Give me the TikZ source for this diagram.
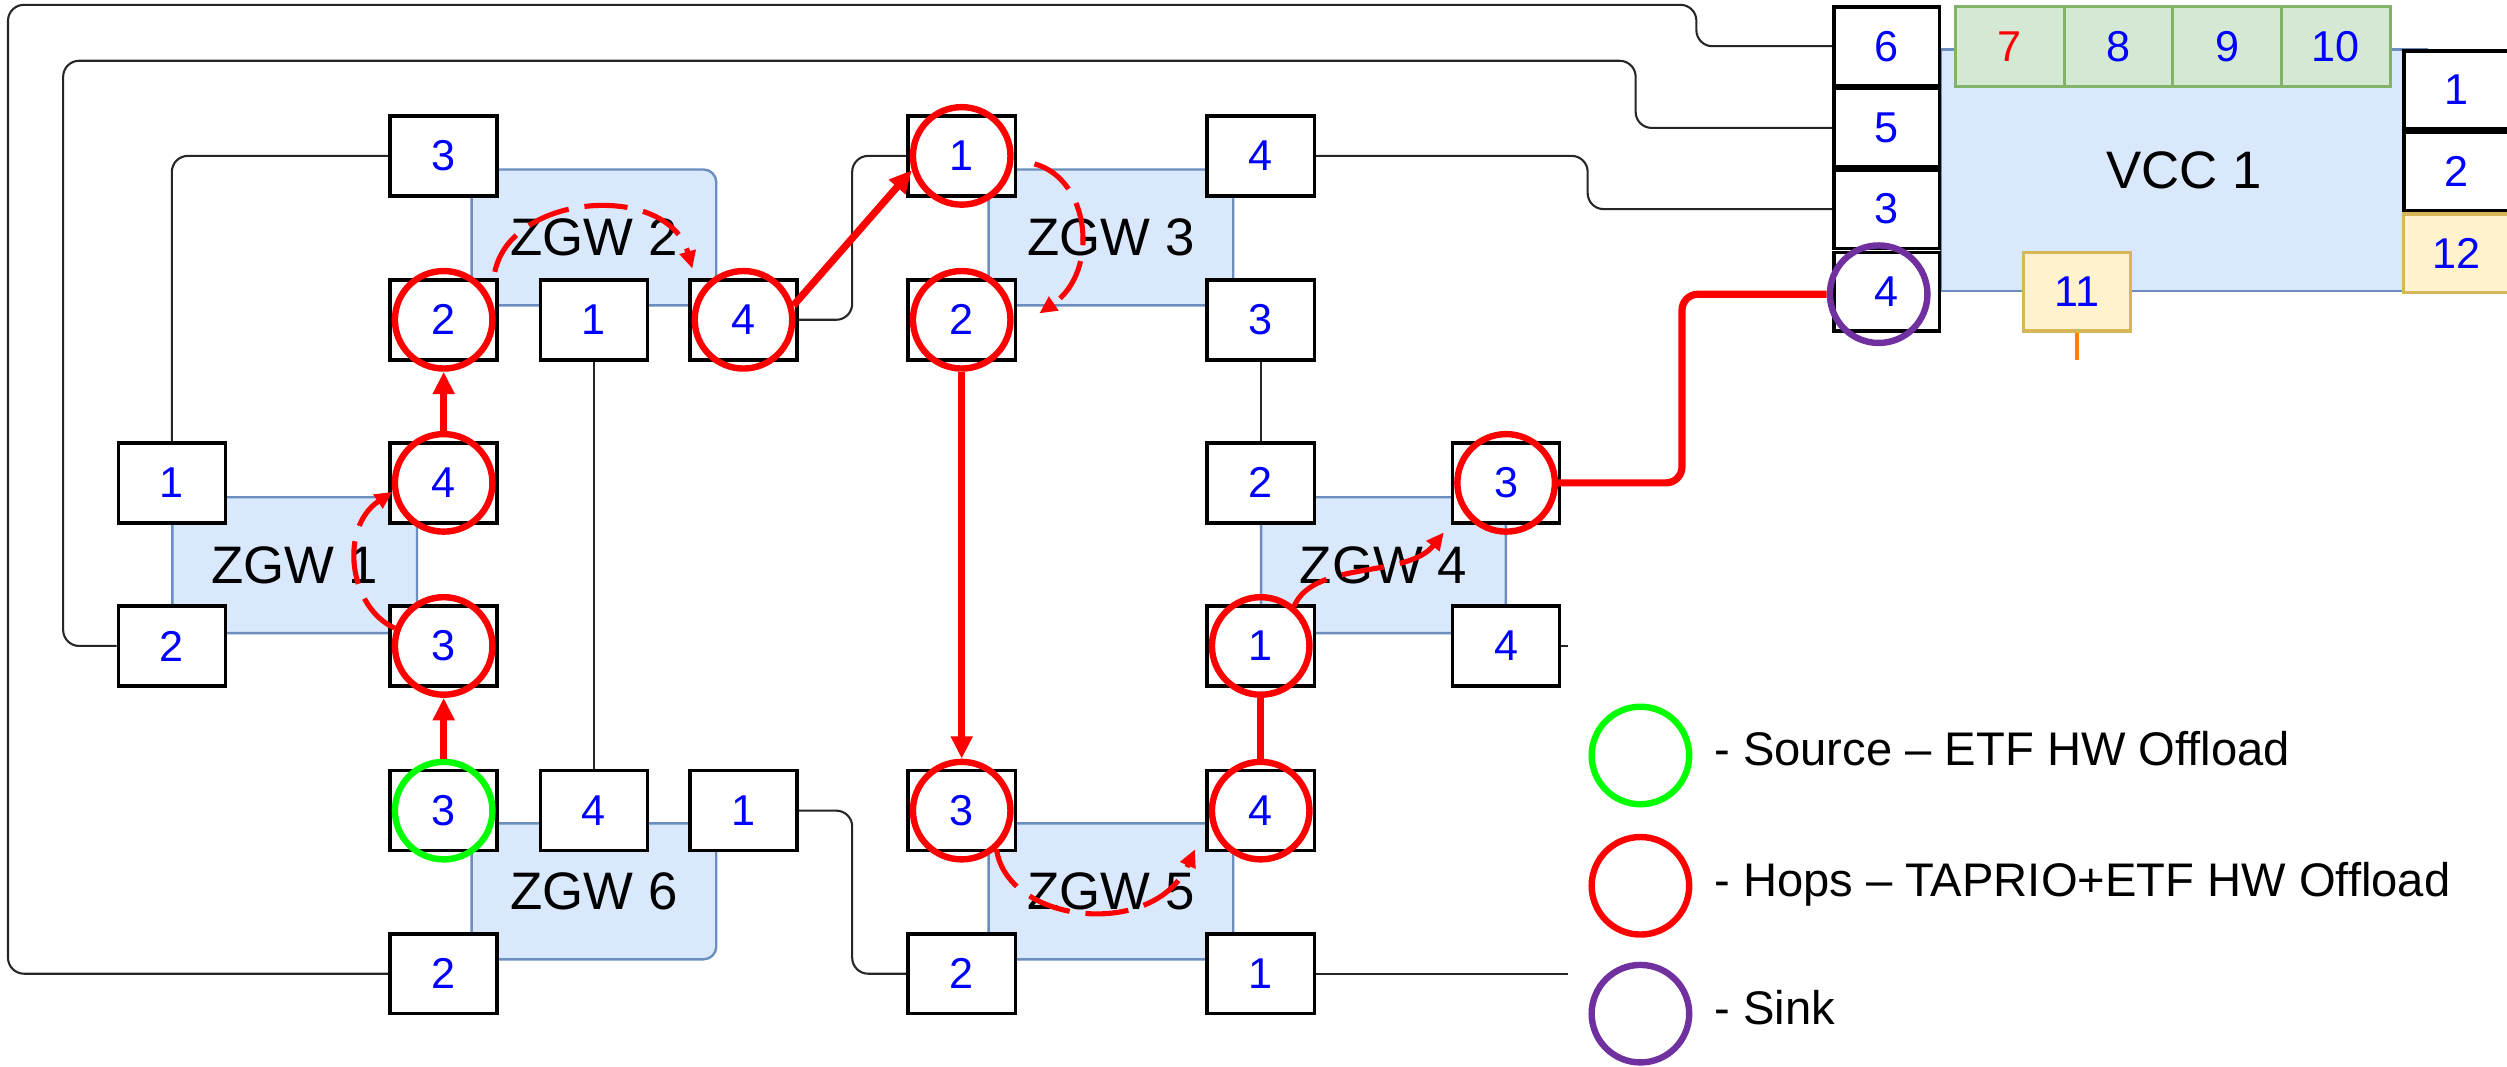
\documentclass[tikz,border=0pt]{standalone}
\usepackage{fontspec}
\setmainfont{Liberation Sans}
\usetikzlibrary{arrows.meta}
\definecolor{zgwfill}{HTML}{DAE8FC}
\definecolor{zgwdraw}{HTML}{6C8EBF}
\definecolor{gfill}{HTML}{D5E8D4}
\definecolor{gdraw}{HTML}{82B366}
\definecolor{yfill}{HTML}{FFF2CC}
\definecolor{ydraw}{HTML}{D6B656}
\definecolor{purp}{HTML}{7030A0}
\definecolor{orng}{HTML}{FF8000}
\definecolor{hopred}{HTML}{FF0000}
\definecolor{srcgreen}{HTML}{00FF00}
\begin{document}
\begin{tikzpicture}[x=1pt,y=-1pt,
  port/.style={draw=black,line width=2.2pt,fill=white,minimum width=67pt,minimum height=50pt,inner sep=0pt,text=blue,font=\fontsize{27}{27}\selectfont},
  vport/.style={port,minimum width=66pt,minimum height=49pt},
  cell/.style={draw=gdraw,fill=gfill,line width=2pt,minimum width=68pt,minimum height=50pt,inner sep=0pt,text=blue,font=\fontsize{27}{27}\selectfont},
  ybox/.style={draw=ydraw,fill=yfill,line width=2pt,minimum width=67pt,minimum height=49pt,inner sep=0pt,text=blue,font=\fontsize{27}{27}\selectfont},
  zgw/.style={draw=zgwdraw,fill=zgwfill,line width=1.5pt,rounded corners=8pt,minimum width=153pt,minimum height=85pt,inner sep=0pt,font=\fontsize{33}{33}\selectfont},
  wire/.style={draw=black!85,line width=1.3pt,rounded corners=10pt},
  hop/.style={circle,draw=hopred,line width=4pt,minimum size=61pt,inner sep=0pt},
  src/.style={hop,draw=srcgreen},
  snk/.style={hop,draw=purp},
  redarr/.style={draw=hopred,line width=4.5pt,-{Triangle[length=14pt,width=13pt]}},
  redline/.style={draw=hopred,line width=4.5pt},
  dasharc/.style={draw=hopred,line width=3.2pt,dash pattern=on 27pt off 10pt,-{Triangle[length=11pt,width=10pt]}},
  legtext/.style={anchor=base west,inner sep=0pt,font=\fontsize{29.5}{29.5}\selectfont}
]
\useasboundingbox (0,0) rectangle (1568,667);
\fill[white] (0,0) rectangle (1568,667);

% ZGW bodies
\node[zgw] (Z1) at (184.3,353.5) {ZGW 1};
\node[zgw] (Z2) at (371.5,148.5) {ZGW 2};
\node[zgw] (Z3) at (694.8,148.5) {ZGW 3};
\node[zgw] (Z4) at (865.3,353.5) {ZGW 4};
\node[zgw] (Z5) at (694.8,557.5) {ZGW 5};
\node[zgw] (Z6) at (371.5,557.5) {ZGW 6};

% VCC body
\node[draw=zgwdraw,fill=zgwfill,line width=1.5pt,minimum width=304pt,minimum height=151pt,inner sep=0pt,font=\fontsize{33}{33}\selectfont] (VCC) at (1366,106.5) {VCC 1};

% green cells
\node[cell,text=hopred] (g7) at (1257,29) {7};
\node[cell] (g8) at (1325,29) {8};
\node[cell] (g9) at (1393,29) {9};
\node[cell] (g10) at (1461,29) {10};

% VCC ports
\node[vport] (v6) at (1180,28.9) {6};
\node[vport] (v5) at (1180,80) {5};
\node[vport] (v3) at (1180,130.8) {3};
\node[vport] (v4) at (1180,182.4) {4};
\node[vport] (r1) at (1536.5,56.3) {1};
\node[vport] (r2) at (1536.5,107.3) {2};
\node[ybox] (r12) at (1536.5,158.4) {12};
\node[ybox] (v11) at (1299,182.5) {11};

% ZGW ports
\node[port] (p11) at (107.5,302) {1};
\node[port] (p12) at (107.5,404) {2};
\node[port] (p14) at (277.5,302) {4};
\node[port] (p13) at (277.5,404) {3};
\node[port] (p23) at (277.5,97.5) {3};
\node[port] (p22) at (277.5,200) {2};
\node[port] (p21) at (371.5,200) {1};
\node[port] (p24) at (465,200) {4};
\node[port] (p31) at (601.5,97.5) {1};
\node[port] (p32) at (601.5,200) {2};
\node[port] (p34) at (788.5,97.5) {4};
\node[port] (p33) at (788.5,200) {3};
\node[port] (p42) at (788.5,302) {2};
\node[port] (p43) at (942,302) {3};
\node[port] (p41) at (788.5,404) {1};
\node[port] (p44) at (942,404) {4};
\node[port] (p53) at (601.5,507) {3};
\node[port] (p54) at (788.5,507) {4};
\node[port] (p52) at (601.5,609) {2};
\node[port] (p51) at (788.5,609) {1};
\node[port] (p63) at (277.5,507) {3};
\node[port] (p64) at (371.5,507) {4};
\node[port] (p61) at (465,507) {1};
\node[port] (p62) at (277.5,609) {2};

% wire bend points
\coordinate (k1) at (1061,3);
\coordinate (k2) at (5,609);
\coordinate (k3) at (1023,38);
\coordinate (k4) at (39.5,404);
\coordinate (k5) at (993,97.5);
\coordinate (k6) at (533,97.5);
\coordinate (k7) at (533,609);
\coordinate (k8) at (981,404);
\coordinate (k9) at (981,609);
\coordinate (k10) at (1299,225);
\coordinate (k11) at (1052,184);

% wires
\draw[wire] (v6.west) -| (k1) -| (k2) -- (p62.west);
\draw[wire] (v5.west) -| (k3) -| (k4) -- (p12.west);
\draw[wire] (v3.west) -| (k5) -- (p34.east);
\draw[wire] (p24.east) -| (k6) -- (p31.west);
\draw[wire] (p61.east) -| (k7) -- (p52.west);
\draw[wire] (p23.west) -| (p11.north);
\draw[wire] (p21.south) -- (p64.north);
\draw[wire] (p33.south) -- (p42.north);
\draw[wire] (p44.east) -- (k8);
\draw[wire] (p51.east) -- (k9);
\draw[draw=orng,line width=2.5pt] (v11.south) -- (k10);

% hop circles
\node[src] (c63) at (p63) {};
\node[hop] (c13) at (p13) {};
\node[hop] (c14) at (p14) {};
\node[hop] (c22) at (p22) {};
\node[hop] (c24) at (p24) {};
\node[hop] (c31) at (p31) {};
\node[hop] (c32) at (p32) {};
\node[hop] (c53) at (p53) {};
\node[hop] (c54) at (p54) {};
\node[hop] (c41) at (p41) {};
\node[hop] (c43) at (p43) {};
\node[snk] (sink) at (1175,184) {};

% red path
\draw[redarr] (c63) -- (c13);
\draw[dasharc] (c13.160) .. controls (218,380) and (212,330) .. (c14.190);
\draw[redarr] (c14) -- (c22);
\draw[dasharc] ([shift={(9,-7)}]c22.45) .. controls (320,120) and (418,114) .. ([shift={(-9,-9)}]c24.135);
\draw[redarr] (c24.16) -- (c31.196);
\draw[dasharc] ([shift={(13,5)}]c31.east) .. controls (682,112) and (688,170) .. ([shift={(16,-4)}]c32.east);
\draw[redarr] (c32) -- (c53);
\draw[dasharc] (c53.-48) .. controls (630,578) and (722,588) .. ([shift={(-13,8)}]c54.210);
\draw[redline] (c54) -- (c41);
\draw[dasharc] (c41.50) .. controls (822,350) and (880,362) .. ([shift={(-16,8)}]c43.225);
\draw[redline,rounded corners=10pt] (c43.east) -| (k11) -- (sink.west);

% legend
\node[src] (lg1) at (1026,472.5) {};
\node[hop] (lg2) at (1026,554) {};
\node[snk] (lg3) at (1026,634) {};
\node[legtext] (lt1) at (1072,479) {- Source – ETF HW Offload};
\node[legtext] (lt2) at (1072,560.5) {- Hops – TAPRIO+ETF HW Offload};
\node[legtext] (lt3) at (1072,640.5) {- Sink};
\end{tikzpicture}
\end{document}
